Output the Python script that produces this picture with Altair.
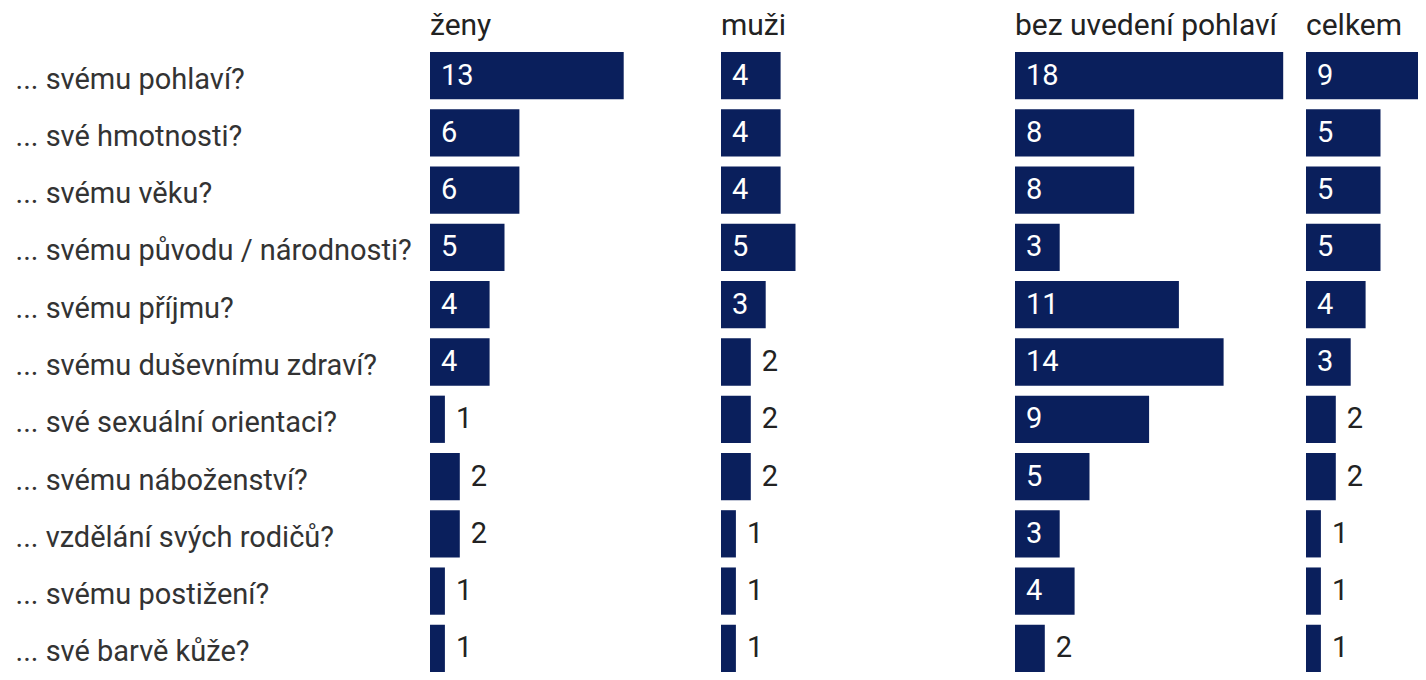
import altair as alt
import pandas as pd

categories = [
    "... svému pohlaví?",
    "... své hmotnosti?",
    "... svému věku?",
    "... svému původu / národnosti?",
    "... svému příjmu?",
    "... svému duševnímu zdraví?",
    "... své sexuální orientaci?",
    "... svému náboženství?",
    "... vzdělání svých rodičů?",
    "... svému postižení?",
    "... své barvě kůže?",
]
groups = ["ženy", "muži", "bez uvedení pohlaví", "celkem"]
zeny = [13, 6, 6, 5, 4, 4, 1, 2, 2, 1, 1]
muzi = [4, 4, 4, 5, 3, 2, 2, 2, 1, 1, 1]
bez = [18, 8, 8, 3, 11, 14, 9, 5, 3, 4, 2]
celkem = [9, 5, 5, 5, 4, 3, 2, 2, 1, 1, 1]

FONT = "Roboto"
NAVY = "#0a1f5c"
PX_PER_UNIT = 14.9
panel_widths = [291, 294, 291, 112]
PLOT_H = 620


def panel(name, vals, width, first):
    df = pd.DataFrame({"cat": categories, "value": vals, "zero": [0] * len(vals)})
    xs = alt.Scale(domain=[0, width / PX_PER_UNIT], nice=False, zero=True)
    if first:
        yaxis = alt.Axis(
            labelAlign="left",
            labelPadding=415,
            labelOffset=4,
            labelFontSize=29,
            labelFont=FONT,
            labelColor="#333333",
            labelLimit=600,
            ticks=False,
            tickSize=0,
            domain=False,
            grid=False,
            title=None,
        )
    else:
        yaxis = None
    y = alt.Y(
        "cat:N",
        sort=categories,
        title=None,
        scale=alt.Scale(paddingInner=0.175, paddingOuter=0),
        axis=yaxis,
    )
    bars = alt.Chart(df).mark_bar(color=NAVY, clip=True).encode(
        x=alt.X("value:Q", scale=xs, axis=None), y=y
    )
    inside = alt.Chart(df).transform_filter("datum.value >= 3").mark_text(
        align="left", baseline="middle", dx=11, fontSize=29, font=FONT, color="white"
    ).encode(x=alt.X("zero:Q", scale=xs, axis=None), y=y, text="value:Q")
    outside = alt.Chart(df).transform_filter("datum.value < 3").mark_text(
        align="left", baseline="middle", dx=11, fontSize=29, font=FONT, color="#222222"
    ).encode(x=alt.X("value:Q", scale=xs, axis=None), y=y, text="value:Q")
    return alt.layer(bars, inside, outside).properties(
        width=width,
        height=PLOT_H,
        title=alt.Title(
            text=name,
            anchor="start",
            frame="group",
            fontSize=30,
            font=FONT,
            fontWeight="normal",
            color="#222222",
            offset=11,
            baseline="top",
        ),
    )


panels = [
    panel(g, v, w, i == 0)
    for i, (g, v, w) in enumerate(zip(groups, [zeny, muzi, bez, celkem], panel_widths))
]

chart = alt.hconcat(*panels, spacing=0).resolve_scale(x="independent").properties(
    padding={"left": 7, "top": 3, "right": 0, "bottom": 0}
).configure_view(stroke=None)

chart.save("out.html", embed_options={"renderer": "svg", "actions": False})
